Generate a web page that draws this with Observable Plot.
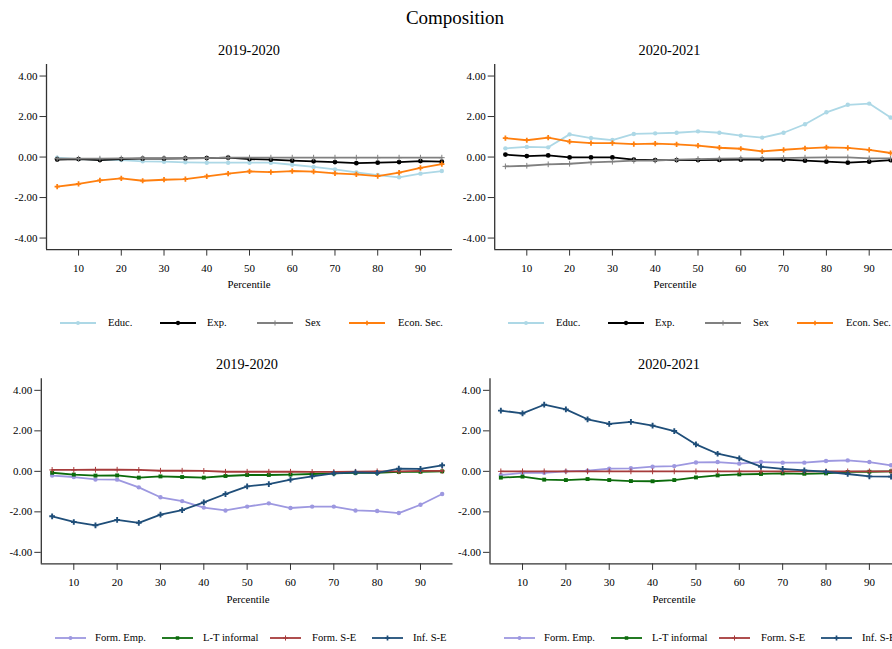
<!DOCTYPE html>
<html>
<head>
<meta charset="utf-8">
<script src="https://cdn.jsdelivr.net/npm/d3@7"></script>
<script src="https://cdn.jsdelivr.net/npm/@observablehq/plot@0.6"></script>
<style>
  html, body { margin: 0; padding: 0; background: #fff; overflow: hidden; }
  #wrap { position: relative; width: 892px; height: 649px; overflow: hidden;
          font-family: "Liberation Serif", "Times New Roman", serif; color: #000; }
  #wrap svg, #wrap svg text { font-family: "Liberation Serif", "Times New Roman", serif !important; }
  .c { position: absolute; transform: translate(-50%, -50%); white-space: nowrap; line-height: 1; }
  .panel { position: absolute; }
  .lg { position: absolute; white-space: nowrap; line-height: 1; font-size: 10.6px; transform: translateY(-50%); }
  .sw { position: absolute; }
</style>
</head>
<body>
<div id="wrap"></div>
<script>
// ---------------- data ----------------
const percentiles = [5,10,15,20,25,30,35,40,45,50,55,60,65,70,75,80,85,90,95];
const xTicks = [10,20,30,40,50,60,70,80,90];
const yTicks = [-4,-2,0,2,4];
const mainTitle = "Composition";
const panelTitles = ["2019-2020", "2020-2021", "2019-2020", "2020-2021"];
const xLabel = "Percentile";
const groupA = ["Educ.", "Exp.", "Sex", "Econ. Sec."];
const groupB = ["Form. Emp.", "L-T informal", "Form. S-E", "Inf. S-E"];

// top-left 2019-2020
const educ19 = [-0.03,-0.10,-0.13,-0.15,-0.21,-0.23,-0.26,-0.28,-0.28,-0.28,-0.28,-0.38,-0.49,-0.61,-0.76,-0.89,-1.00,-0.82,-0.69];
const exp19  = [-0.12,-0.10,-0.15,-0.10,-0.08,-0.08,-0.07,-0.05,-0.03,-0.10,-0.13,-0.18,-0.21,-0.25,-0.30,-0.28,-0.25,-0.20,-0.23];
const sex19  = [-0.08,-0.08,-0.08,-0.07,-0.06,-0.06,-0.05,-0.05,-0.03,-0.03,-0.03,-0.03,-0.03,-0.03,-0.03,-0.03,-0.03,-0.03,-0.03];
const econ19 = [-1.46,-1.33,-1.15,-1.05,-1.17,-1.12,-1.09,-0.95,-0.82,-0.71,-0.74,-0.69,-0.72,-0.81,-0.86,-0.94,-0.77,-0.53,-0.35];

// top-right 2020-2021
const educ20 = [0.43,0.50,0.48,1.12,0.94,0.84,1.14,1.17,1.20,1.27,1.20,1.06,0.96,1.20,1.62,2.21,2.58,2.64,1.95];
const exp20  = [0.12,0.05,0.08,-0.02,-0.02,-0.02,-0.13,-0.15,-0.15,-0.15,-0.14,-0.13,-0.12,-0.13,-0.18,-0.23,-0.28,-0.23,-0.15];
const sex20  = [-0.46,-0.43,-0.36,-0.33,-0.26,-0.23,-0.18,-0.17,-0.13,-0.10,-0.08,-0.07,-0.07,-0.05,-0.03,-0.02,-0.02,-0.07,-0.07];
const econ20 = [0.93,0.83,0.96,0.76,0.69,0.69,0.64,0.66,0.63,0.56,0.46,0.41,0.28,0.36,0.43,0.48,0.45,0.35,0.20];

// bottom-left 2019-2020
const formEmp19 = [-0.21,-0.28,-0.40,-0.41,-0.79,-1.28,-1.47,-1.79,-1.93,-1.74,-1.58,-1.81,-1.74,-1.74,-1.93,-1.96,-2.06,-1.65,-1.12];
const ltInf19   = [-0.07,-0.16,-0.21,-0.20,-0.31,-0.25,-0.28,-0.31,-0.23,-0.18,-0.18,-0.16,-0.13,-0.10,-0.08,-0.07,-0.03,-0.02,0.00];
const formSE19  = [0.07,0.07,0.08,0.08,0.07,0.03,0.03,0.02,-0.02,-0.02,-0.02,-0.02,-0.03,-0.03,-0.02,0.00,0.00,0.02,0.02];
const infSE19   = [-2.22,-2.50,-2.67,-2.40,-2.54,-2.14,-1.91,-1.53,-1.12,-0.74,-0.63,-0.41,-0.25,-0.10,-0.05,-0.08,0.13,0.12,0.30];

// bottom-right 2020-2021
const formEmp20 = [-0.18,-0.08,-0.07,0.00,0.03,0.13,0.15,0.23,0.26,0.44,0.46,0.38,0.46,0.43,0.43,0.51,0.54,0.46,0.30];
const ltInf20   = [-0.31,-0.26,-0.41,-0.43,-0.38,-0.43,-0.48,-0.49,-0.43,-0.30,-0.20,-0.15,-0.13,-0.10,-0.12,-0.10,-0.03,-0.02,0.00];
const formSE20  = [0.00,0.00,0.00,0.00,0.00,0.00,0.00,0.00,0.00,0.00,0.00,0.00,0.00,0.00,0.00,0.00,0.00,0.00,0.00];
const infSE20   = [3.00,2.86,3.29,3.06,2.57,2.34,2.44,2.26,1.99,1.33,0.87,0.64,0.23,0.12,0.05,-0.02,-0.13,-0.25,-0.26];

// ---------------- styles ----------------
const stylesA = [
  {color: "#add8e6", symbol: "circle", r: 2.2, filled: true},
  {color: "#000000", symbol: "circle", r: 2.4, filled: true},
  {color: "#808080", symbol: "plus", r: 2.0, filled: false},
  {color: "#ff7f0e", symbol: "cross", r: 2.2, filled: true}
];
const stylesB = [
  {color: "#9d98e0", symbol: "circle", r: 2.2, filled: true},
  {color: "#0b6b0b", symbol: "square", r: 2.2, filled: true},
  {color: "#a63b3b", symbol: "plus", r: 2.0, filled: false},
  {color: "#1f4e79", symbol: "cross", r: 2.4, filled: true}
];

const panels = [
  {left: 0,   top: 60,  ml: 46,   mr: 8,   mt: 4,   h: 220, pad: 8, names: groupA, styles: stylesA,
   values: [educ19, exp19, sex19, econ19], title: [249, 50], xl: [249, 284], legend: {x: 0, y: 323, len: 36, items: [[60,108],[160,207],[257,305],[349,398]]}},
  {left: 446, top: 60,  ml: 48.2, mr: 5.2, mt: 4,   h: 220, pad: 8, names: groupA, styles: stylesA,
   values: [educ20, exp20, sex20, econ20], title: [669.5, 50], xl: [675, 284], legend: {x: 448, y: 323, len: 36, items: [[60,108],[160,207],[257,305],[349,398]]}},
  {left: 0,   top: 374, ml: 40.8, mr: 7.5, mt: 4.3, h: 219, pad: 8, names: groupB, styles: stylesB,
   values: [formEmp19, ltInf19, formSE19, infSE19], title: [247, 364], xl: [248, 599], legend: {x: 0, y: 637.5, len: 31, items: [[55,95],[162,203],[270,312],[372,413]]}},
  {left: 446, top: 374, ml: 43.5, mr: 4.6, mt: 4.3, h: 219, pad: 8, names: groupB, styles: stylesB,
   values: [formEmp20, ltInf20, formSE20, infSE20], title: [669, 364], xl: [674, 599], legend: {x: 449, y: 637.5, len: 31, items: [[55,95],[162,203],[270,312],[372,413]]}}
];

const wrap = document.getElementById("wrap");
function addText(txt, x, y, size, cls = "c") {
  const d = document.createElement("div");
  d.className = cls;
  d.textContent = txt;
  d.style.left = x + "px";
  d.style.top = y + "px";
  d.style.fontSize = size + "px";
  wrap.appendChild(d);
  return d;
}

addText(mainTitle, 455, 17, 19);

const yMin = -4.57, yMax = 4.57, xMin = 2.5, xMax = 97.5;

panels.forEach((p, pi) => {
  const marks = [];
  p.values.forEach((vals, si) => {
    const st = p.styles[si];
    const rows = percentiles.map((q, i) => ({p: q, v: vals[i]}));
    marks.push(Plot.line(rows, {x: "p", y: "v", stroke: st.color, strokeWidth: 1.8}));
    if (st.filled) {
      marks.push(Plot.dot(rows, {x: "p", y: "v", fill: st.color, stroke: "none", symbol: st.symbol, r: st.r}));
    } else {
      marks.push(Plot.dot(rows, {x: "p", y: "v", fill: "none", stroke: st.color, strokeWidth: 1, symbol: st.symbol, r: st.r}));
    }
  });
  const chart = Plot.plot({
    width: 460,
    height: p.h,
    marginLeft: p.ml,
    marginRight: p.mr,
    marginTop: p.mt,
    marginBottom: p.h - p.mt - 185.1,
    x: {domain: [xMin, xMax]},
    y: {domain: [yMin, yMax]},
    style: {fontFamily: "Liberation Serif, Times New Roman, serif", fontSize: "11px", background: "transparent", color: "#000"},
    marks: [
      Plot.axisY(yTicks, {tickFormat: d => d.toFixed(2), tickSize: 6.5, tickPadding: 2.5, label: null, stroke: "#333"}),
      Plot.axisX(xTicks, {tickSize: 6.5, tickPadding: p.pad, label: null, stroke: "#333"}),
      Plot.ruleX([xMin], {stroke: "#333", strokeWidth: 1.3}),
      Plot.ruleY([yMin], {stroke: "#333", strokeWidth: 1.3}),
      ...marks
    ]
  });
  chart.classList.add("panel");
  chart.style.left = p.left + "px";
  chart.style.top = p.top + "px";
  wrap.appendChild(chart);

  addText(panelTitles[pi], p.title[0], p.title[1], 14.3);
  addText(xLabel, p.xl[0], p.xl[1], 10.8);

  // legend
  p.names.forEach((name, si) => {
    const st = p.styles[si];
    const [lx, tx] = p.legend.items[si];
    const len = p.legend.len;
    const svg = d3.create("svg").attr("width", len).attr("height", 10).attr("class", "sw")
      .style("left", (p.legend.x + lx) + "px").style("top", (p.legend.y - 5) + "px");
    svg.append("line").attr("x1", 0).attr("x2", len).attr("y1", 5).attr("y2", 5)
      .attr("stroke", st.color).attr("stroke-width", 1.8);
    const sym = st.symbol === "circle" ? d3.symbolCircle : st.symbol === "square" ? d3.symbolSquare
      : st.symbol === "cross" ? d3.symbolCross : d3.symbolPlus;
    const path = svg.append("path").attr("transform", `translate(${len / 2},5)`)
      .attr("d", d3.symbol(sym, Math.PI * st.r * st.r * 0.8)());
    if (st.filled) path.attr("fill", st.color);
    else path.attr("fill", "none").attr("stroke", st.color).attr("stroke-width", 1);
    wrap.appendChild(svg.node());
    const t = document.createElement("div");
    t.className = "lg";
    t.textContent = name;
    t.style.left = (p.legend.x + tx) + "px";
    t.style.top = p.legend.y + "px";
    wrap.appendChild(t);
  });
});
</script>
</body>
</html>
